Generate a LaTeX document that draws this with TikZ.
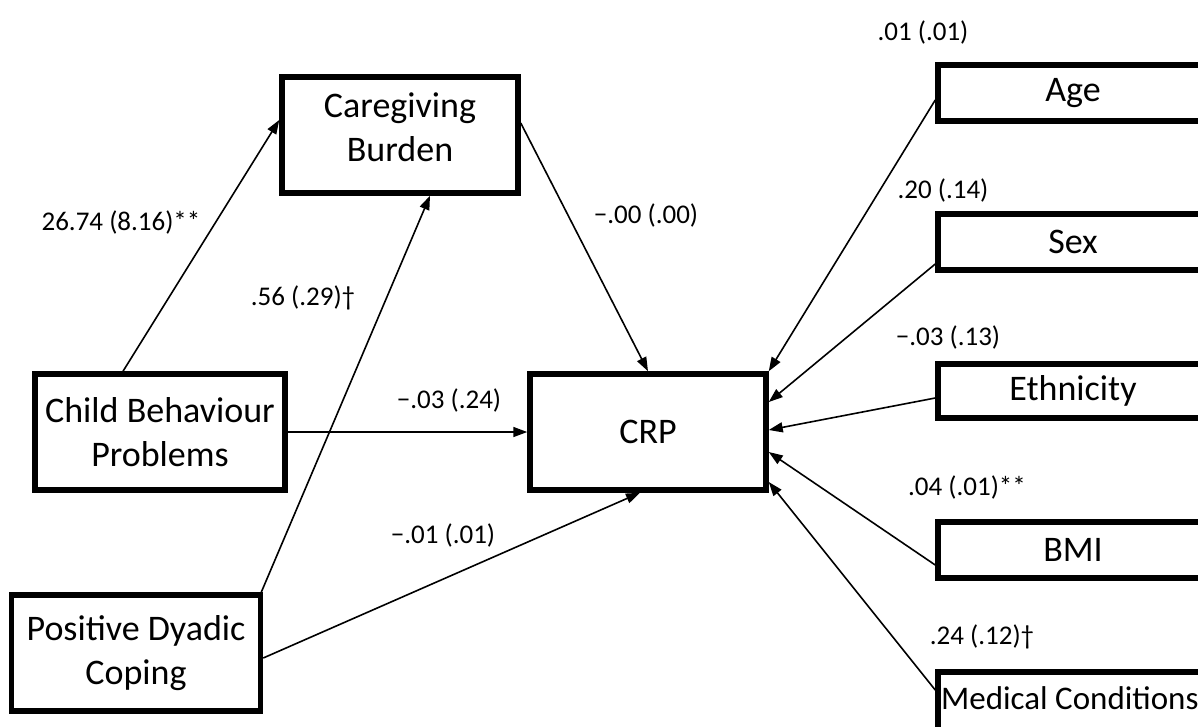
\documentclass[tikz,border=0pt]{standalone}
\usepackage{fontspec}
\setmainfont{Carlito}
\usetikzlibrary{arrows.meta}
\begin{document}
\begin{tikzpicture}[x=1pt,y=-1pt,
  box/.style={draw=black,line width=5.5pt,rectangle,inner sep=0pt,align=center,
    font=\fontsize{36}{44}\selectfont},
  sbox/.style={box,minimum width=270pt,minimum height=56pt},
  coef/.style={inner sep=0pt,font=\fontsize{27}{30}\selectfont},
  path/.style={line width=1.6pt,-{Triangle[length=14pt,width=10pt]}}]
\useasboundingbox (0,0) rectangle (1198,726);
\clip (0,0) rectangle (1198,726);
% main boxes
\node[box,minimum width=236pt,minimum height=116pt] (cg) at (400,135) {Caregiving\\Burden\\[-28pt]\mbox{}};
\node[box,minimum width=250pt,minimum height=116pt] (cbp) at (160,432) {Child Behaviour\\Problems};
\node[box,minimum width=249pt,minimum height=116pt] (pdc) at (136,653) {Positive Dyadic\\Coping};
\node[box,minimum width=236pt,minimum height=116pt] (crp) at (648,432) {CRP};
% covariate boxes
\node[sbox] (age) at (1073,93) {Age};
\node[sbox] (sex) at (1073,242) {Sex};
\node[sbox,minimum height=54pt] (eth) at (1073,391) {Ethnicity};
\node[sbox] (bmi) at (1073,550) {BMI};
\node[sbox,minimum height=66pt] (med) at (1073,705) {};
\node[anchor=west,inner sep=0pt,font=\fontsize{33}{40}\selectfont] (medt) at (941,698) {Medical Conditions};
% connectors
\draw[path] ([xshift=-37pt]cbp.north) -- ([yshift=15pt]cg.west);
\draw[path] ([xshift=-2pt]pdc.north east) -- ([xshift=30pt]cg.south);
\draw[path] ([yshift=12pt]cg.east) -- (crp.north);
\draw[path] (cbp.east) -- (crp.west);
\draw[path] ([yshift=-5pt]pdc.east) -- ([xshift=-8pt]crp.south);
\draw[path] ([yshift=-7pt]age.west) -- (crp.north east);
\draw[path] ([yshift=-22pt]sex.west) -- ([yshift=30pt]crp.east);
\draw[path] ([yshift=-7pt]eth.west) -- ([yshift=2pt]crp.east);
\draw[path] ([yshift=-15pt]bmi.west) -- ([yshift=-20pt]crp.east);
\draw[path] ([yshift=15pt]med.west) -- ([yshift=-50pt]crp.east);
% coefficients
\node[coef] (l1) at (121,222) {26.74 (8.16)**};
\node[coef] (l2) at (303,298) {.56 (.29)†};
\node[coef] (l3) at (646,215) {−.00 (.00)};
\node[coef] (l4) at (449,400) {−.03 (.24)};
\node[coef] (l5) at (443,535) {−.01 (.01)};
\node[coef] (l6) at (923,32) {.01 (.01)};
\node[coef] (l7) at (943,190) {.20 (.14)};
\node[coef] (l8) at (948,337) {−.03 (.13)};
\node[coef] (l9) at (967,487) {.04 (.01)**};
\node[coef] (l10) at (982,637) {.24 (.12)†};
\end{tikzpicture}
\end{document}
